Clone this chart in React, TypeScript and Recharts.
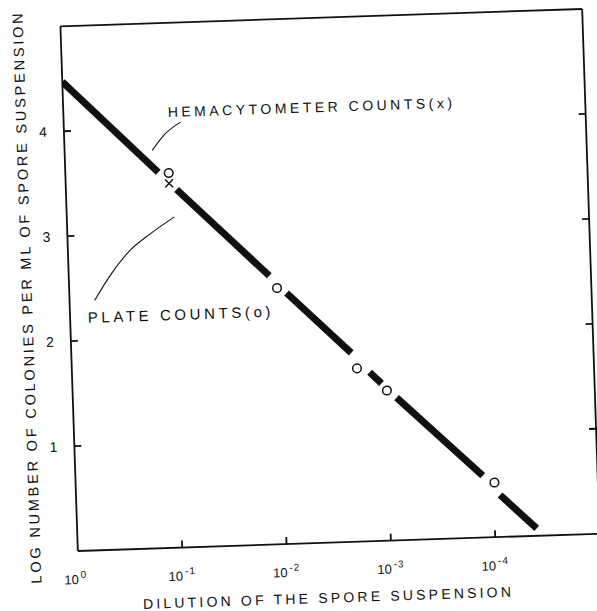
import React from "react";
import { ComposedChart, Line, Scatter, XAxis, YAxis, ReferenceDot } from "recharts";

// x is -log10(dilution), so 0 -> 10^0, 1 -> 10^-1 ...
const dilutionTicks = [0, 1, 2, 3, 4];
const dilutionExponents = ["0", "-1", "-2", "-3", "-4"];
const logTicks = [1, 2, 3, 4];

// plate counts (o) and hemacytometer count (x)
const plateX = [0.99, 1.99, 2.73, 3.01, 4.01];
const plateY = [3.57, 2.44, 1.65, 1.43, 0.52];
const hemaX = [0.99];
const hemaY = [3.47];

// the fitted line, broken where it passes the points
const fitStartX = [0, 1.06, 2.08, 2.85, 3.1, 4.06];
const fitStartY = [4.47, 3.41, 2.39, 1.61, 1.36, 0.4];
const fitEndX = [0.89, 1.92, 2.68, 2.96, 3.9, 4.4];
const fitEndY = [3.58, 2.56, 1.8, 1.5, 0.59, 0.07];

// pointer strokes from the two notes
const hemaPointerX = [0.84, 0.965, 1.12];
const hemaPointerY = [3.79, 3.94, 4.05];
const platePointerX = [0.24, 0.41, 0.59, 0.8, 1.03];
const platePointerY = [2.38, 2.63, 2.84, 3.0, 3.15];

const hemaNote = "HEMACYTOMETER COUNTS(x)";
const plateNote = "PLATE COUNTS(o)";
const xTitle = "DILUTION OF THE SPORE SUSPENSION";
const yTitle = "LOG NUMBER OF COLONIES PER ML OF SPORE SUSPENSION";

const INK = "#111";
const FONT = '"Liberation Sans", Arial, sans-serif';

const plateData = plateX.map((x, i) => ({ x, y: plateY[i] }));
const hemaData = hemaX.map((x, i) => ({ x, y: hemaY[i] }));
const fitSegments = fitStartX.map((x, i) => [
  { x, y: fitStartY[i] },
  { x: fitEndX[i], y: fitEndY[i] },
]);
const hemaPointer = hemaPointerX.map((x, i) => ({ x, y: hemaPointerY[i] }));
const platePointer = platePointerX.map((x, i) => ({ x, y: platePointerY[i] }));

const BottomTick = (props: any) => {
  const { x, y, payload } = props;
  const i = dilutionTicks.indexOf(payload.value);
  return (
    <g>
      {payload.value > 0 && <line x1={x} y1={y} x2={x} y2={y - 7} stroke={INK} strokeWidth={1.8} />}
      <text x={x} y={y + 33} textAnchor="end" fontSize={13} fontFamily={FONT} fill={INK}>
        10
      </text>
      <text x={x + 2} y={y + 27} textAnchor="start" fontSize={10} fontFamily={FONT} fill={INK} style={{ letterSpacing: 1 }}>
        {dilutionExponents[i]}
      </text>
    </g>
  );
};

const LeftTick = (props: any) => {
  const { x, y, payload } = props;
  return (
    <g>
      <line x1={x} y1={y} x2={x + 7} y2={y} stroke={INK} strokeWidth={1.8} />
      <text x={x - 21} y={y + 5} textAnchor="middle" fontSize={14} fontFamily={FONT} fill={INK}>
        {payload.value}
      </text>
    </g>
  );
};

const TopTick = (props: any) => {
  const { x, y } = props;
  return <line x1={x} y1={y} x2={x} y2={y + 7} stroke={INK} strokeWidth={1.8} />;
};

const RightTick = (props: any) => {
  const { x, y } = props;
  return <line x1={x} y1={y} x2={x - 7} y2={y} stroke={INK} strokeWidth={1.8} />;
};

const XTitle = ({ viewBox }: any) => (
  <text
    x={viewBox.x + viewBox.width / 2 - 12}
    y={viewBox.y + 60}
    textAnchor="middle"
    fontSize={14}
    fontFamily={FONT}
    fill={INK}
    style={{ letterSpacing: 3.2 }}
  >
    {xTitle}
  </text>
);

const YTitle = ({ viewBox }: any) => {
  const cx = viewBox.x + 26.5;
  const cy = viewBox.y + viewBox.height / 2 + 7;
  return (
    <text
      x={cx}
      y={cy}
      transform={`rotate(-90 ${cx} ${cy})`}
      textAnchor="middle"
      dominantBaseline="central"
      fontSize={14.5}
      fontFamily={FONT}
      fill={INK}
      style={{ letterSpacing: 2.8 }}
    >
      {yTitle}
    </text>
  );
};

const noteLabel = (text: string, size: number, spacing: number) => ({ viewBox }: any) => (
  <text
    x={viewBox.x + viewBox.width / 2}
    y={viewBox.y + viewBox.height / 2 + size * 0.36}
    textAnchor="start"
    fontSize={size}
    fontFamily={FONT}
    fill={INK}
    style={{ letterSpacing: spacing }}
  >
    {text}
  </text>
);

const OpenCircle = (props: any) => {
  const { cx, cy } = props;
  return <circle cx={cx} cy={cy} r={4.3} fill="#fff" stroke={INK} strokeWidth={1.5} />;
};

const Cross = (props: any) => {
  const { cx, cy } = props;
  return (
    <g stroke={INK} strokeWidth={1.4}>
      <line x1={cx - 4} y1={cy - 4} x2={cx + 4} y2={cy + 4} />
      <line x1={cx + 4} y1={cy - 4} x2={cx - 4} y2={cy + 4} />
    </g>
  );
};

const SporeDilutionChart = () => (
  <ComposedChart width={597} height={611} margin={{ top: 0, right: 0, bottom: 0, left: 0 }}>
    <XAxis
      xAxisId="b"
      dataKey="x"
      type="number"
      domain={[0, 5]}
      ticks={dilutionTicks}
      allowDataOverflow
      height={68.5}
      tickSize={0}
      tickMargin={0}
      tickLine={false}
      tick={<BottomTick />}
      axisLine={{ stroke: INK, strokeWidth: 1.8 }}
      label={XTitle}
    />
    <XAxis
      xAxisId="t"
      orientation="top"
      type="number"
      domain={[0, 5]}
      ticks={logTicks}
      allowDataOverflow
      height={17.5}
      tickSize={0}
      tickMargin={0}
      tickLine={false}
      tick={<TopTick />}
      axisLine={{ stroke: INK, strokeWidth: 1.8 }}
    />
    <YAxis
      yAxisId="l"
      dataKey="y"
      type="number"
      domain={[0, 5]}
      ticks={logTicks}
      allowDataOverflow
      width={69}
      tickSize={0}
      tickMargin={0}
      tickLine={false}
      tick={<LeftTick />}
      axisLine={{ stroke: INK, strokeWidth: 1.8 }}
      label={YTitle}
    />
    <YAxis
      yAxisId="r"
      orientation="right"
      type="number"
      domain={[0, 5]}
      ticks={logTicks}
      allowDataOverflow
      width={6}
      tickSize={0}
      tickMargin={0}
      tickLine={false}
      tick={<RightTick />}
      axisLine={{ stroke: INK, strokeWidth: 1.8 }}
    />

    {fitSegments.map((seg, i) => (
      <Line
        key={`fit-${i}`}
        xAxisId="b"
        yAxisId="l"
        data={seg}
        dataKey="y"
        type="linear"
        stroke={INK}
        strokeWidth={7}
        strokeLinecap="butt"
        dot={false}
        activeDot={false}
        isAnimationActive={false}
      />
    ))}

    <Line
      xAxisId="b"
      yAxisId="l"
      data={hemaPointer}
      dataKey="y"
      type="monotone"
      stroke={INK}
      strokeWidth={1.1}
      dot={false}
      activeDot={false}
      isAnimationActive={false}
    />
    <Line
      xAxisId="b"
      yAxisId="l"
      data={platePointer}
      dataKey="y"
      type="monotone"
      stroke={INK}
      strokeWidth={1.1}
      dot={false}
      activeDot={false}
      isAnimationActive={false}
    />

    <Scatter xAxisId="b" yAxisId="l" data={plateData} dataKey="y" shape={<OpenCircle />} isAnimationActive={false} />
    <Scatter xAxisId="b" yAxisId="l" data={hemaData} dataKey="y" shape={<Cross />} isAnimationActive={false} />

    <ReferenceDot xAxisId="b" yAxisId="l" x={1.0} y={4.15} r={0} fill="none" stroke="none" label={noteLabel(hemaNote, 14, 3.5)} />
    <ReferenceDot xAxisId="b" yAxisId="l" x={0.17} y={2.22} r={0} fill="none" stroke="none" label={noteLabel(plateNote, 15, 3.6)} />
  </ComposedChart>
);

export default function App() {
  return (
    <div style={{ width: 597, height: 611, overflow: "hidden", background: "#fff" }}>
      <style>{"body{margin:0}"}</style>
      <div style={{ transform: "rotate(-1.9deg)", transformOrigin: "330px 280px" }}>
        <SporeDilutionChart />
      </div>
    </div>
  );
}
